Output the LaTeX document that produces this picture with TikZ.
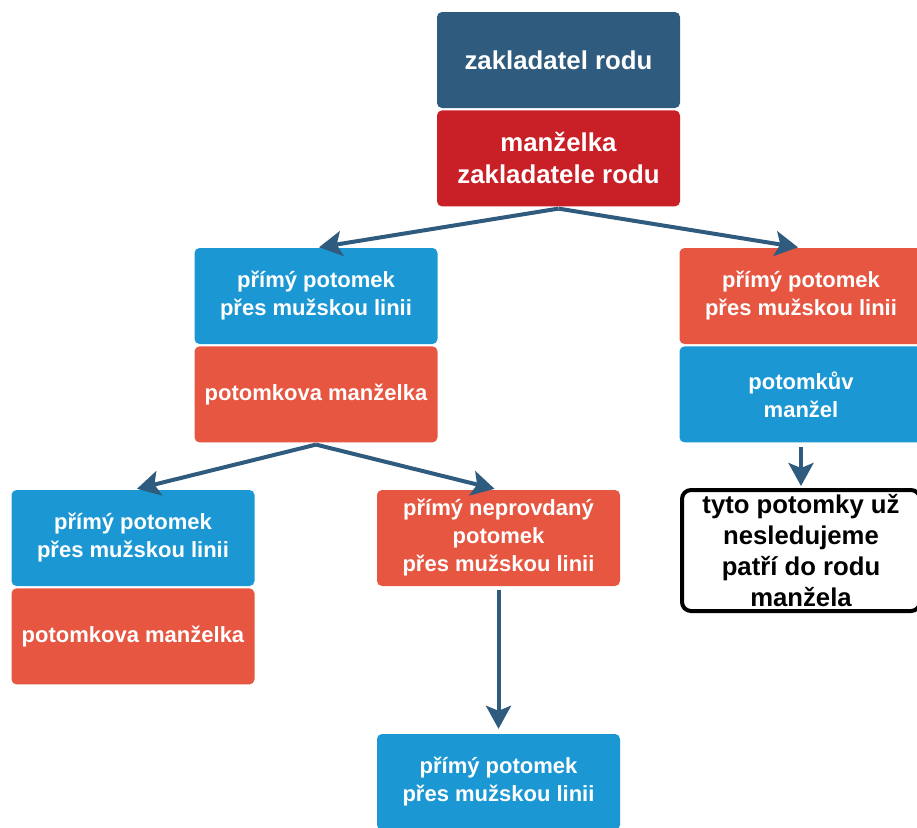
\documentclass[tikz,border=0pt]{standalone}
\usepackage{fontspec}
\setmainfont{Liberation Sans}
\usetikzlibrary{arrows.meta,positioning}
\definecolor{navy}{HTML}{2F5C7E}
\definecolor{darkred}{HTML}{C92027}
\definecolor{skyblue}{HTML}{1B98D3}
\definecolor{coral}{HTML}{E65641}
\tikzset{
  box/.style={rounded corners=5pt, minimum width=243pt, minimum height=96pt, inner sep=0pt,
    align=center, text=white, font=\bfseries\fontsize{22}{28}\selectfont},
  bigbox/.style={box, font=\bfseries\fontsize{25.8}{32}\selectfont},
  notebox/.style={draw=black, line width=4pt, rounded corners=9pt, fill=white,
    minimum width=238pt, minimum height=121pt, inner sep=0pt, align=center,
    font=\bfseries\fontsize{25.7}{31}\selectfont},
  arr/.style={draw=navy, line width=4pt, -{Stealth[length=23pt,width=25pt,inset=5pt]}}
}
\begin{document}
\begin{tikzpicture}[x=1pt,y=-1pt]
\useasboundingbox (0,0) rectangle (917,827);
% zakladatel a jeho manzelka
\node[bigbox, fill=navy] (founder) at (558.5,60) {zakladatel rodu};
\node[bigbox, fill=darkred, below=2pt of founder] (wife) {manželka\\zakladatele rodu};
% druha generace
\node[box, fill=skyblue] (sonA) at (316,296) {přímý potomek\\přes mužskou linii};
\node[box, fill=coral, below=2pt of sonA] (sonAwife) {potomkova manželka};
\node[box, fill=coral] (daughterB) at (801,296) {přímý potomek\\přes mužskou linii};
\node[box, fill=skyblue, below=2pt of daughterB] (daughterBhusband) {potomkův\\manžel};
\node[notebox] (note) at (801,550.5) {tyto potomky už\\nesledujeme\\patří do rodu\\manžela};
% treti generace
\node[box, fill=skyblue] (sonC) at (133,538) {přímý potomek\\přes mužskou linii};
\node[box, fill=coral, below=2pt of sonC] (sonCwife) {potomkova manželka};
\node[box, fill=coral] (daughterD) at (498.5,538) {přímý neprovdaný\\potomek\\přes mužskou linii};
\node[box, fill=skyblue] (childE) at (498.5,782) {přímý potomek\\přes mužskou linii};
% rozvetveni
\coordinate (forkA) at ([yshift=-2pt]wife.south);
\coordinate (forkB) at ([yshift=-2pt]sonAwife.south);
% sipky
\draw[arr, shorten >=3pt] (forkA) -- (sonA.north);
\draw[arr, shorten >=3pt] (forkA) -- (daughterB.north);
\draw[arr, shorten >=4pt] (forkB) -- (sonC.north);
\draw[arr, shorten >=4pt] (forkB) -- (daughterD.north);
\draw[arr, shorten <=4pt, shorten >=5pt] (daughterD.south) -- (childE.north);
\draw[arr, shorten <=4pt, shorten >=2pt] (daughterBhusband.south) -- (note.north);
\end{tikzpicture}
\end{document}
